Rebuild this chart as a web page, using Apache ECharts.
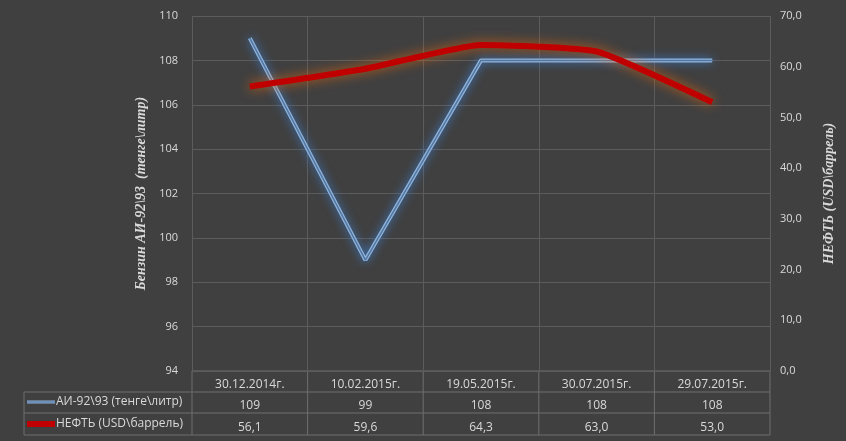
<!DOCTYPE html>
<html>
<head>
<meta charset="utf-8">
<script src="https://cdn.jsdelivr.net/npm/echarts@6/dist/echarts.min.js"></script>
<style>
  html, body { margin: 0; padding: 0; background: #404040; }
  #chart { width: 846px; height: 441px; }
</style>
</head>
<body>
<div id="chart"></div>
<script>
const categories = ["30.12.2014г.", "10.02.2015г.", "19.05.2015г.", "30.07.2015г.", "29.07.2015г."];
const petrol = [109, 99, 108, 108, 108];
const oil = [56.1, 59.6, 64.3, 63.0, 53.0];
const petrolName = "АИ-92\\93 (тенге\\литр)";
const oilName = "НЕФТЬ (USD\\баррель)";

const fmt = v => v.toFixed(1).replace(".", ",");
const txt = "#d9d9d9";
const line = "#6e6e6e";
const L = 192, R = 770, T = 16, B = 371;
const rows = [371, 392, 413, 435];

const chart = echarts.init(document.getElementById("chart"));

const graphic = [];
// table horizontal lines
graphic.push({ type: "line", shape: { x1: L, y1: rows[0], x2: R, y2: rows[0] }, style: { stroke: line } });
for (let i = 1; i < rows.length; i++) {
  graphic.push({ type: "line", shape: { x1: 24, y1: rows[i], x2: R, y2: rows[i] }, style: { stroke: line } });
}
// table vertical lines
graphic.push({ type: "line", shape: { x1: 24, y1: rows[1], x2: 24, y2: rows[3] }, style: { stroke: line } });
const cw = (R - L) / categories.length;
for (let i = 0; i <= categories.length; i++) {
  graphic.push({ type: "line", shape: { x1: L + i * cw, y1: rows[0], x2: L + i * cw, y2: rows[3] }, style: { stroke: line } });
}
// legend keys + names
graphic.push({ type: "line", shape: { x1: 27, y1: 402, x2: 55, y2: 402 }, style: { stroke: "#8fb4de", lineWidth: 3 } });
graphic.push({ type: "line", shape: { x1: 27, y1: 402, x2: 55, y2: 402 }, style: { stroke: "#4f6f95", lineWidth: 1 } });
graphic.push({ type: "line", shape: { x1: 27, y1: 424, x2: 55, y2: 424 }, style: { stroke: "#c00000", lineWidth: 6 } });
graphic.push({ type: "text", x: 56, y: 402, style: { text: petrolName, fill: txt, font: "12px 'Open Sans', sans-serif", verticalAlign: "middle" } });
graphic.push({ type: "text", x: 56, y: 424, style: { text: oilName, fill: txt, font: "12px 'Open Sans', sans-serif", verticalAlign: "middle" } });

const tableAxis = (offset, vals) => ({
  type: "category", data: categories, position: "bottom", offset: offset,
  axisLine: { show: false }, axisTick: { show: false }, splitLine: { show: false },
  axisLabel: { color: txt, fontSize: 12, fontFamily: "Open Sans", margin: 8,
    formatter: (v, i) => vals[i] }
});

chart.setOption({
  backgroundColor: "#404040",
  animation: false,
  textStyle: { fontFamily: "Open Sans" },
  grid: { left: L, right: 846 - R, top: T, bottom: 441 - B },
  xAxis: [
    {
      type: "category", data: categories, boundaryGap: true,
      axisLine: { show: false }, axisTick: { show: false },
      splitLine: { show: true, lineStyle: { color: "#5c5c5c" } },
      axisLabel: { color: txt, fontSize: 12, margin: 8, interval: 0 }
    },
    tableAxis(21, petrol.map(String)),
    tableAxis(43, oil.map(fmt))
  ],
  yAxis: [
    {
      type: "value", min: 94, max: 110, interval: 2,
      name: "Бензин АИ-92\\93  (тенге\\литр)", nameLocation: "middle", nameGap: 42,
      nameTextStyle: { color: txt, fontFamily: "Liberation Serif", fontStyle: "italic", fontWeight: "bold", fontSize: 14 },
      axisLine: { show: false }, axisTick: { show: false },
      axisLabel: { color: txt, fontSize: 11, margin: 14 },
      splitLine: { lineStyle: { color: "#5c5c5c" } }
    },
    {
      type: "value", min: 0, max: 70, interval: 10, position: "right",
      name: "НЕФТЬ (USD\\баррель)", nameLocation: "middle", nameGap: 52, nameRotate: 90,
      nameTextStyle: { color: txt, fontFamily: "Liberation Serif", fontStyle: "italic", fontWeight: "bold", fontSize: 14 },
      axisLine: { show: false }, axisTick: { show: false },
      axisLabel: { color: txt, fontSize: 11, margin: 10, formatter: fmt },
      splitLine: { show: false }
    }
  ],
  series: [
    {
      name: petrolName, type: "line", data: petrol, yAxisIndex: 0,
      showSymbol: false,
      lineStyle: { color: "#8fb4de", width: 4, shadowBlur: 10, shadowColor: "#3d7fd0" }
    },
    {
      name: petrolName + " inner", type: "line", data: petrol, yAxisIndex: 0,
      showSymbol: false, silent: true,
      lineStyle: { color: "#55779e", width: 1.5 }
    },
    {
      name: oilName, type: "line", data: oil, yAxisIndex: 1,
      showSymbol: false, smooth: 0.15,
      lineStyle: { color: "#c00000", width: 6, shadowBlur: 12, shadowColor: "rgba(255,110,0,0.7)" }
    }
  ],
  graphic: graphic
});
</script>
</body>
</html>
